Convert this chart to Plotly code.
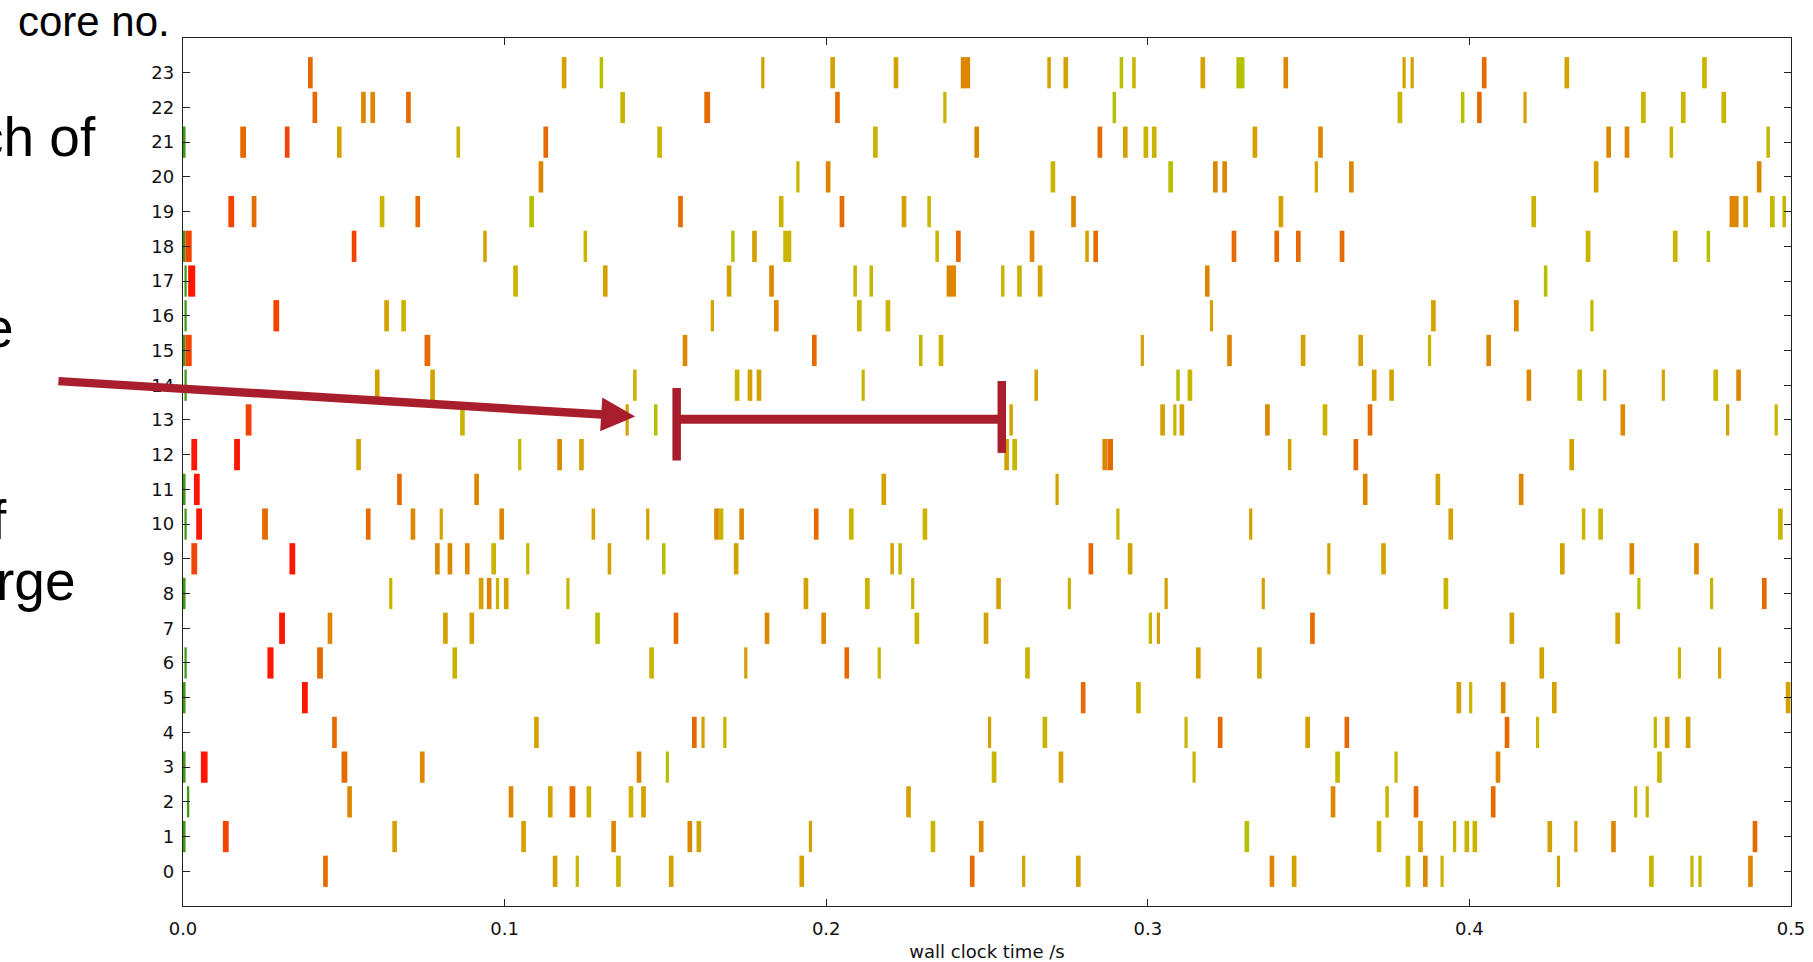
import plotly.graph_objects as go

# Each task: (midpoint of the run in s, run duration in ms, colour key)
CORE_23 = [(0.0396, 1.45, "o"), (0.1185, 1.45, "A"), (0.1301, 1.1, "L"), (0.1803, 1.0, "A"), (0.2020, 1.45, "A"),
           (0.2217, 1.45, "A"), (0.2433, 2.9, "a"), (0.2693, 1.1, "A"), (0.2745, 1.45, "A"), (0.2918, 1.1, "L"),
           (0.2957, 1.1, "Y"), (0.3171, 1.45, "A"), (0.3288, 2.5, "L"), (0.3429, 1.45, "a"), (0.3797, 1.0, "A"),
           (0.3822, 1.0, "A"), (0.4046, 1.45, "o"), (0.4303, 1.45, "A"), (0.4731, 1.45, "Y")]
CORE_22 = [(0.0410, 1.45, "o"), (0.0561, 1.45, "a"), (0.0590, 1.45, "a"), (0.0701, 1.45, "o"), (0.1367, 1.45, "Y"),
           (0.1630, 1.8, "o"), (0.2035, 1.45, "o"), (0.2369, 1.0, "Y"), (0.2896, 1.1, "L"), (0.3784, 1.45, "Y"),
           (0.3979, 1.1, "L"), (0.4031, 1.45, "o"), (0.4173, 1.0, "A"), (0.4541, 1.45, "Y"), (0.4665, 1.45, "Y"),
           (0.4791, 1.45, "Y")]
CORE_21 = [(0.0004, 0.8, "G"), (0.0187, 1.8, "o"), (0.0324, 1.45, "r"), (0.0486, 1.45, "A"), (0.0856, 1.1, "Y"),
           (0.1128, 1.45, "o"), (0.1482, 1.45, "Y"), (0.2153, 1.45, "Y"), (0.2468, 1.45, "a"), (0.2851, 1.45, "o"),
           (0.2930, 1.45, "A"), (0.2994, 1.45, "Y"), (0.3020, 1.45, "Y"), (0.3333, 1.45, "A"), (0.3537, 1.45, "a"),
           (0.4433, 1.45, "a"), (0.4490, 1.45, "a"), (0.4628, 1.1, "Y"), (0.4929, 1.1, "Y")]
CORE_20 = [(0.1113, 1.45, "a"), (0.1912, 1.0, "Y"), (0.2006, 1.45, "a"), (0.2705, 1.45, "Y"), (0.3071, 1.45, "L"),
           (0.3210, 1.45, "a"), (0.3239, 1.45, "a"), (0.3524, 1.0, "A"), (0.3633, 1.45, "a"), (0.4394, 1.45, "A"),
           (0.4901, 1.45, "a")]
CORE_19 = [(0.0150, 1.8, "r"), (0.0221, 1.45, "o"), (0.0619, 1.45, "Y"), (0.0730, 1.45, "o"), (0.1084, 1.45, "L"),
           (0.1547, 1.45, "o"), (0.1860, 1.45, "Y"), (0.2049, 1.45, "o"), (0.2242, 1.45, "A"), (0.2320, 1.1, "Y"),
           (0.2769, 1.45, "a"), (0.3414, 1.45, "A"), (0.4200, 1.45, "Y"), (0.4823, 2.8, "a"), (0.4859, 1.45, "A"),
           (0.4942, 1.45, "Y"), (0.4979, 1.1, "Y")]
CORE_18 = [(0.0003, 0.7, "G"), (0.0017, 2.0, "r"), (0.0532, 1.45, "r"), (0.0939, 1.1, "A"), (0.1251, 1.1, "Y"),
           (0.1710, 1.1, "L"), (0.1777, 1.45, "A"), (0.1879, 2.5, "Y"), (0.2345, 1.1, "Y"), (0.2411, 1.45, "o"),
           (0.2640, 1.45, "a"), (0.2811, 1.1, "A"), (0.2838, 1.45, "o"), (0.3268, 1.45, "o"), (0.3401, 1.45, "o"),
           (0.3468, 1.45, "o"), (0.3604, 1.45, "o"), (0.4369, 1.45, "Y"), (0.4640, 1.45, "Y"), (0.4743, 1.1, "L")]
CORE_17 = [(0.0008, 0.7, "G"), (0.0027, 2.2, "R"), (0.1034, 1.45, "Y"), (0.1313, 1.45, "A"), (0.1698, 1.45, "A"),
           (0.1830, 1.45, "a"), (0.2090, 1.1, "Y"), (0.2140, 1.1, "Y"), (0.2389, 2.9, "a"), (0.2549, 1.1, "Y"),
           (0.2601, 1.45, "Y"), (0.2665, 1.45, "A"), (0.3185, 1.45, "a"), (0.4237, 1.1, "L")]
CORE_16 = [(0.0008, 0.7, "G"), (0.0290, 1.8, "r"), (0.0633, 1.45, "A"), (0.0686, 1.45, "Y"), (0.1646, 1.0, "A"),
           (0.1845, 1.45, "a"), (0.2103, 1.45, "Y"), (0.2192, 1.45, "Y"), (0.3198, 1.0, "A"), (0.3888, 1.45, "A"),
           (0.4146, 1.45, "a"), (0.4381, 1.0, "Y")]
CORE_15 = [(0.0003, 0.7, "G"), (0.0017, 2.0, "r"), (0.0760, 1.8, "o"), (0.1561, 1.45, "a"), (0.1963, 1.45, "o"),
           (0.2294, 1.1, "Y"), (0.2357, 1.45, "Y"), (0.2983, 1.0, "A"), (0.3254, 1.45, "a"), (0.3483, 1.45, "A"),
           (0.3662, 1.45, "A"), (0.3876, 1.0, "Y"), (0.4060, 1.45, "a")]
CORE_14 = [(0.0008, 0.7, "G"), (0.0604, 1.45, "A"), (0.0776, 1.45, "A"), (0.1405, 1.1, "Y"), (0.1723, 1.45, "Y"),
           (0.1763, 1.45, "A"), (0.1791, 1.45, "A"), (0.2115, 1.0, "Y"), (0.2653, 1.1, "A"), (0.3094, 1.1, "L"),
           (0.3131, 1.45, "Y"), (0.3704, 1.45, "A"), (0.3758, 1.45, "A"), (0.4185, 1.45, "a"), (0.4343, 1.45, "Y"),
           (0.4421, 1.0, "A"), (0.4603, 1.0, "A"), (0.4766, 1.45, "Y"), (0.4837, 1.45, "a")]
CORE_13 = [(0.0204, 1.8, "r"), (0.0869, 1.45, "Y"), (0.1381, 1.0, "A"), (0.1470, 1.1, "L"), (0.2575, 1.1, "A"),
           (0.3046, 1.45, "A"), (0.3084, 1.0, "Y"), (0.3106, 1.45, "A"), (0.3372, 1.45, "a"), (0.3551, 1.45, "Y"),
           (0.3691, 1.45, "o"), (0.4477, 1.45, "a"), (0.4803, 1.0, "A"), (0.4954, 1.0, "Y")]
CORE_12 = [(0.0035, 1.8, "R"), (0.0168, 1.8, "R"), (0.0546, 1.45, "A"), (0.1047, 1.0, "Y"), (0.1171, 1.45, "a"),
           (0.1239, 1.45, "A"), (0.2561, 1.45, "A"), (0.2586, 1.45, "Y"), (0.2866, 1.45, "a"), (0.2883, 1.75, "o"),
           (0.3441, 1.1, "A"), (0.3647, 1.45, "o"), (0.4318, 1.45, "A")]
CORE_11 = [(0.0004, 0.8, "G"), (0.0043, 1.8, "R"), (0.0673, 1.45, "o"), (0.0913, 1.45, "a"), (0.2179, 1.45, "A"),
           (0.2718, 1.0, "A"), (0.3676, 1.45, "a"), (0.3902, 1.45, "A"), (0.4161, 1.45, "a")]
CORE_10 = [(0.0008, 0.7, "G"), (0.0050, 1.8, "R"), (0.0255, 1.8, "o"), (0.0576, 1.45, "o"), (0.0715, 1.45, "a"),
           (0.0803, 1.0, "A"), (0.0991, 1.45, "a"), (0.1276, 1.1, "A"), (0.1445, 1.0, "A"), (0.1659, 1.45, "a"),
           (0.1673, 1.45, "Y"), (0.1737, 1.45, "a"), (0.1969, 1.45, "o"), (0.2078, 1.45, "Y"), (0.2307, 1.45, "Y"),
           (0.2907, 1.0, "Y"), (0.3320, 1.0, "A"), (0.3942, 1.45, "A"), (0.4355, 1.1, "Y"), (0.4408, 1.45, "Y"),
           (0.4967, 1.45, "Y")]
CORE_9 = [(0.0035, 1.8, "r"), (0.0340, 1.8, "R"), (0.0791, 1.45, "a"), (0.0830, 1.45, "a"), (0.0884, 1.45, "a"),
          (0.0966, 1.45, "Y"), (0.1072, 1.0, "Y"), (0.1326, 1.1, "A"), (0.1495, 1.1, "L"), (0.1720, 1.45, "A"),
          (0.2205, 1.1, "A"), (0.2230, 1.1, "Y"), (0.2823, 1.45, "o"), (0.2945, 1.45, "A"), (0.3563, 1.0, "A"),
          (0.3733, 1.45, "A"), (0.4289, 1.45, "A"), (0.4505, 1.45, "a"), (0.4706, 1.45, "a")]
CORE_8 = [(0.0004, 0.8, "G"), (0.0646, 1.0, "Y"), (0.0927, 1.45, "A"), (0.0952, 1.45, "a"), (0.0978, 1.0, "Y"),
          (0.1005, 1.45, "A"), (0.1197, 1.0, "Y"), (0.1937, 1.45, "A"), (0.2128, 1.45, "Y"), (0.2269, 1.0, "Y"),
          (0.2536, 1.45, "A"), (0.2756, 1.0, "Y"), (0.3057, 1.0, "A"), (0.3359, 1.0, "A"), (0.3927, 1.45, "Y"),
          (0.4527, 1.0, "L"), (0.4753, 1.0, "Y"), (0.4917, 1.45, "o")]
CORE_7 = [(0.0308, 1.8, "R"), (0.0457, 1.45, "a"), (0.0816, 1.45, "A"), (0.0898, 1.45, "A"), (0.1289, 1.45, "L"),
          (0.1533, 1.45, "o"), (0.1816, 1.45, "a"), (0.1992, 1.45, "a"), (0.2282, 1.45, "Y"), (0.2497, 1.45, "A"),
          (0.3008, 1.0, "Y"), (0.3033, 1.0, "A"), (0.3512, 1.45, "o"), (0.4132, 1.45, "A"), (0.4461, 1.45, "A")]
CORE_6 = [(0.0008, 0.7, "G"), (0.0272, 1.9, "R"), (0.0426, 1.8, "o"), (0.0845, 1.45, "Y"), (0.1457, 1.45, "Y"),
          (0.1750, 1.0, "A"), (0.2064, 1.45, "o"), (0.2165, 1.0, "Y"), (0.2626, 1.45, "Y"), (0.3157, 1.45, "A"),
          (0.3347, 1.45, "A"), (0.4225, 1.45, "A"), (0.4653, 1.0, "Y"), (0.4778, 1.0, "A")]
CORE_5 = [(0.0004, 0.8, "G"), (0.0379, 1.8, "R"), (0.2799, 1.45, "o"), (0.2971, 1.45, "Y"), (0.3967, 1.45, "A"),
          (0.4004, 1.0, "Y"), (0.4105, 1.45, "a"), (0.4264, 1.45, "A"), (0.4991, 1.45, "A")]
CORE_4 = [(0.0471, 1.45, "o"), (0.1099, 1.45, "A"), (0.1590, 1.45, "o"), (0.1617, 1.0, "A"), (0.1685, 1.0, "Y"),
          (0.2508, 1.0, "A"), (0.2680, 1.45, "Y"), (0.3119, 1.0, "Y"), (0.3225, 1.45, "o"), (0.3497, 1.45, "A"),
          (0.3619, 1.45, "o"), (0.4117, 1.45, "o"), (0.4212, 1.0, "Y"), (0.4578, 1.0, "Y"), (0.4615, 1.45, "A"),
          (0.4680, 1.45, "A")]
CORE_3 = [(0.0004, 0.8, "G"), (0.0066, 2.1, "R"), (0.0502, 1.8, "o"), (0.0744, 1.45, "a"), (0.1418, 1.45, "a"),
          (0.1506, 1.0, "L"), (0.2522, 1.45, "Y"), (0.2730, 1.45, "A"), (0.3144, 1.0, "Y"), (0.3590, 1.45, "Y"),
          (0.3772, 1.0, "Y"), (0.4089, 1.45, "a"), (0.4591, 1.45, "Y")]
CORE_2 = [(0.0016, 0.7, "G"), (0.0518, 1.45, "a"), (0.1020, 1.45, "a"), (0.1142, 1.45, "A"), (0.1211, 1.8, "o"),
          (0.1262, 1.45, "Y"), (0.1393, 1.45, "Y"), (0.1432, 1.45, "A"), (0.2256, 1.45, "A"), (0.3576, 1.45, "a"),
          (0.3744, 1.1, "Y"), (0.3834, 1.45, "o"), (0.4074, 1.45, "o"), (0.4517, 1.0, "Y"), (0.4553, 1.0, "Y")]
CORE_1 = [(0.0004, 0.8, "G"), (0.0133, 1.8, "r"), (0.0658, 1.45, "A"), (0.1059, 1.45, "A"), (0.1339, 1.45, "a"),
          (0.1576, 1.45, "a"), (0.1604, 1.45, "A"), (0.1951, 1.0, "A"), (0.2332, 1.45, "Y"), (0.2482, 1.45, "a"),
          (0.3308, 1.45, "L"), (0.3719, 1.45, "Y"), (0.3848, 1.45, "A"), (0.3954, 1.0, "Y"), (0.3992, 1.45, "Y"),
          (0.4017, 1.45, "Y"), (0.4250, 1.45, "A"), (0.4331, 1.0, "A"), (0.4448, 1.45, "a"), (0.4888, 1.45, "o")]
CORE_0 = [(0.0443, 1.45, "o"), (0.1157, 1.45, "A"), (0.1226, 1.0, "Y"), (0.1354, 1.45, "Y"), (0.1518, 1.45, "A"),
          (0.1924, 1.45, "A"), (0.2454, 1.45, "o"), (0.2614, 1.0, "A"), (0.2784, 1.45, "A"), (0.3386, 1.45, "a"),
          (0.3455, 1.45, "A"), (0.3809, 1.45, "Y"), (0.3863, 1.45, "a"), (0.3915, 1.0, "Y"), (0.4277, 1.0, "A"),
          (0.4566, 1.45, "Y"), (0.4692, 1.0, "Y"), (0.4717, 1.0, "Y"), (0.4874, 1.45, "a")]

CORES = [CORE_0, CORE_1, CORE_2, CORE_3, CORE_4, CORE_5, CORE_6, CORE_7, CORE_8, CORE_9, CORE_10, CORE_11,
         CORE_12, CORE_13, CORE_14, CORE_15, CORE_16, CORE_17, CORE_18, CORE_19, CORE_20, CORE_21, CORE_22, CORE_23]

PALETTE = {
    "G": "#3f9a10",   # green
    "R": "#ff1500",   # red
    "r": "#f24300",   # red-orange
    "o": "#e66a00",   # orange
    "a": "#dd8700",   # orange-amber
    "A": "#d4a200",   # amber
    "Y": "#c9b400",   # olive yellow
    "L": "#b6c000",   # yellow-green
}

X_TICKS = [0.0, 0.1, 0.2, 0.3, 0.4, 0.5]
X_TICK_TEXT = ["0.0", "0.1", "0.2", "0.3", "0.4", "0.5"]
Y_TICKS = list(range(24))

# idle gap highlighted on core 13 (start, end in s) and the arrow pointing at it
GAP_CORE = 13
GAP_START, GAP_END = 0.1535, 0.2546
ARROW_TAIL = (-0.0392, 14.12)
ARROW_HEAD = (0.1406, 13.10)
ACCENT = "#a81e2d"

# slide text fragments next to the chart
SIDE_TEXT = ["ch of", "e", "f", "rge"]

cores, starts, durations, colours = [], [], [], []
for core, tasks in enumerate(CORES):
    for mid, dur_ms, key in tasks:
        cores.append(core)
        starts.append(mid - dur_ms / 2000.0)
        durations.append(dur_ms / 1000.0)
        colours.append(PALETTE[key])

fig = go.Figure()
fig.add_trace(go.Bar(
    orientation="h",
    y=cores,
    x=durations,
    base=starts,
    width=0.9,
    marker=dict(color=colours, line=dict(width=0)),
    hoverinfo="skip",
    showlegend=False,
))

W, H = 1813, 962
ML, MR, MT, MB = 183, 22, 38, 56
PW, PH = W - ML - MR, H - MT - MB


def px(x):
    return (x - ML) / PW


def py(y):
    return 1 - (y - MT) / PH


axis_style = dict(
    showline=True, linecolor="#222222", linewidth=1.3, mirror="ticks",
    ticks="inside", ticklen=7, tickwidth=1.1, tickcolor="#222222",
    showgrid=False, zeroline=False, automargin=False,
    tickfont=dict(family="DejaVu Sans", size=18, color="#111111"),
)

fig.update_layout(
    template="none",
    width=W, height=H,
    margin=dict(l=ML, r=MR, t=MT, b=MB, pad=0),
    paper_bgcolor="white", plot_bgcolor="white",
    barmode="overlay",
    xaxis=dict(range=[0, 0.5], tickvals=X_TICKS, ticktext=X_TICK_TEXT, ticklabelstandoff=6,
               title=dict(text="wall clock time /s", standoff=8,
                          font=dict(family="DejaVu Sans", size=18, color="#111111")),
               **axis_style),
    yaxis=dict(range=[-1, 24], tickvals=Y_TICKS, ticklabelstandoff=4, **axis_style),
)

annotations = [
    dict(text="core no.", xref="paper", yref="paper", x=px(17), y=py(21.5), xanchor="left", yanchor="middle",
         showarrow=False, borderpad=0, font=dict(family="Liberation Sans", size=42, color="#000000")),
]
side_pos = [(97, 137.0), (15, 328.0), (8, 520.0), (77, 581.0)]
for txt, (xr, yc) in zip(SIDE_TEXT, side_pos):
    annotations.append(dict(text=txt, xref="paper", yref="paper", x=px(xr), y=py(yc), xanchor="right",
                            yanchor="middle", showarrow=False, borderpad=0,
                            font=dict(family="Liberation Sans", size=55, color="#000000")))
annotations.append(dict(
    text="", xref="x", yref="y", axref="x", ayref="y",
    x=ARROW_HEAD[0], y=ARROW_HEAD[1], ax=ARROW_TAIL[0], ay=ARROW_TAIL[1],
    showarrow=True, arrowhead=2, arrowsize=0.8, arrowwidth=8.5, arrowcolor=ACCENT, standoff=0,
))
fig.update_layout(annotations=annotations)

# bracket marking the idle interval
fig.add_shape(type="line", xref="x", yref="y", x0=GAP_START, x1=GAP_END, y0=GAP_CORE + 0.02, y1=GAP_CORE + 0.02,
              line=dict(color=ACCENT, width=9))
fig.add_shape(type="line", xref="x", yref="y", x0=GAP_START, x1=GAP_START, y0=GAP_CORE - 1.17, y1=GAP_CORE + 0.92,
              line=dict(color=ACCENT, width=8.5))
fig.add_shape(type="line", xref="x", yref="y", x0=GAP_END, x1=GAP_END, y0=GAP_CORE - 0.95, y1=GAP_CORE + 1.12,
              line=dict(color=ACCENT, width=8.5))

fig.write_html("out.html")
